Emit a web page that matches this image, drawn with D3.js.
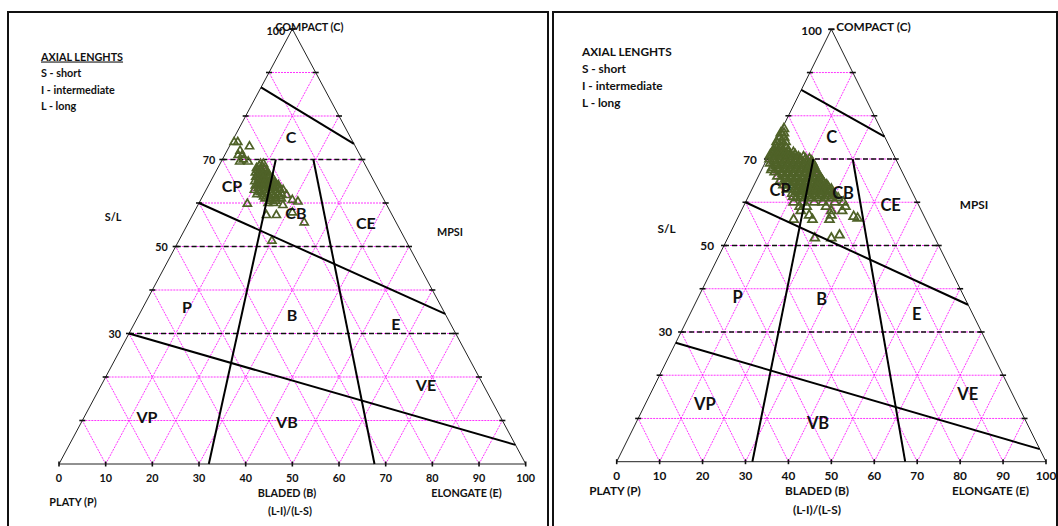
<!DOCTYPE html>
<meta charset="utf-8">
<style>
body{margin:0;background:#fff;}
text{font-family:Lato,"Open Sans",sans-serif;font-weight:bold;fill:#111;}
</style>
<body>
<svg id="chart" width="1058" height="526"></svg>
<script src="https://d3js.org/d3.v7.min.js"></script>
<script>
// Sneed & Folk form diagrams, two sample sets
// every point is [S/L, (L-I)/(L-S)] in percent

var baseTicks = [0, 10, 20, 30, 40, 50, 60, 70, 80, 90, 100];
var gridSteps = [10, 20, 30, 40, 50, 60, 70, 80, 90];
var levelLines = [70, 50, 30];
var regionNames = ["C", "CP", "CB", "CE", "P", "B", "E", "VP", "VB", "VE"];
var legendLines = ["AXIAL LENGHTS", "S - short", "I - intermediate", "L - long"];

// class boundaries [[S/L, ratio], [S/L, ratio]]
var leftBounds = [
	[[86.6, 0], [73.6, 100]],
	[[60, 0], [34.5, 100]],
	[[30, 0], [4.4, 100]],
	[[70, 38.2], [0, 32.1]],
	[[70, 65], [0, 67.6]]
];
var rightBounds = [
	[[86, 0], [75.2, 100]],
	[[60, 0], [36.3, 100]],
	[[27.5, 0], [2.9, 100]],
	[[70, 36], [0, 31.6]],
	[[70, 66.6], [0, 67.2]]
];

// label anchor in the same coordinates
var leftLabelPos = [[75.4, 48.8], [64.1, 14], [57.9, 51.8], [55.6, 85.5], [36.1, 14.7], [34.3, 49.9], [32.4, 82.8], [11, 15], [9.7, 48.7], [18.2, 85]];
var rightLabelPos = [[75.2, 50.3], [62.9, 17.8], [62.2, 57.2], [59.4, 84], [38.2, 14.7], [37.6, 46.4], [34.2, 80.2], [13.4, 16], [9, 46.6], [15.7, 87.7]];

var leftPoints = [
	[74, 2], [74, 5], [73, 16], [72, 10], [71, 10], [71, 13], [70, 15], [69.5, 13], [69.5, 19],
	[69, 28], [69, 30], [68, 26], [68, 29], [68, 31], [67, 26], [67, 28], [67, 31], [67, 34],
	[66, 27], [66, 29], [66, 32], [66, 35], [65, 27], [65, 30], [65, 33], [65, 36], [65, 39],
	[64, 28], [64, 31], [64, 34], [64, 37], [64, 40], [63, 28], [63, 31], [63, 34], [63, 37], [63, 40], [63, 43],
	[62, 30], [62, 33], [62, 36], [62, 39], [62, 42], [62, 44], [61, 35], [61, 38], [61, 41], [61, 44], [60, 37], [60, 40],
	[68.5, 27.5], [67.5, 27], [67.5, 30], [67.5, 33], [66.5, 28], [66.5, 31], [66.5, 34], [65.5, 29], [65.5, 32],
	[65.5, 35], [65.5, 38], [64.5, 30], [64.5, 33], [64.5, 36], [64.5, 39], [63.5, 30], [63.5, 33], [63.5, 36],
	[63.5, 39], [63.5, 42], [62.5, 32], [62.5, 35], [62.5, 38], [62.5, 41], [61.5, 34], [61.5, 37], [61.5, 40],
	[61.5, 43], [60.5, 38], [60.5, 41],
	[62.6, 30.5], [59.8, 26], [57.2, 37], [57.2, 42], [59.5, 45], [60.7, 50], [60.3, 53], [55.5, 55.7],
	[57.8, 50], [51.3, 41], [61.8, 46.8], [64.1, 41.6], [63, 44.7]
];

var rightPoints = [
	[77, 2], [76, 1], [76, 4], [75, 2], [75, 6], [74, 1], [74, 5], [74, 9],
	[73, 2], [73, 6], [73, 10], [72, 2], [72, 6], [72, 10], [72, 14],
	[71, 1], [71, 5], [71, 9], [71, 13], [71, 17], [71, 21],
	[70, 2], [70, 6], [70, 10], [70, 14], [70, 18], [70, 22], [70, 26], [70, 30], [70, 33],
	[69, 4], [69, 9], [69, 13], [69, 17], [69, 21], [69, 25], [69, 29], [69, 33], [69, 36],
	[68, 7], [68, 12], [68, 16], [68, 20], [68, 24], [68, 28], [68, 32], [68, 35], [68, 38],
	[67, 10], [67, 15], [67, 19], [67, 23], [67, 27], [67, 31], [67, 35], [67, 39],
	[66, 13], [66, 18], [66, 22], [66, 26], [66, 30], [66, 34], [66, 38], [66, 42],
	[65, 16], [65, 21], [65, 25], [65, 29], [65, 33], [65, 37], [65, 41], [65, 44],
	[64, 19], [64, 24], [64, 28], [64, 32], [64, 36], [64, 40], [64, 44], [64, 47],
	[63, 22], [63, 27], [63, 31], [63, 35], [63, 39], [63, 43], [63, 47], [63, 50],
	[62, 26], [62, 31], [62, 35], [62, 39], [62, 43], [62, 47], [62, 51],
	[61, 29], [61, 34], [61, 38], [61, 42], [61, 46], [61, 50], [61, 54],
	[60, 28], [60, 33], [60, 40], [60, 45], [60, 52], [60, 57],
	[72.5, 4], [72.5, 8], [72.5, 12], [71.5, 3], [71.5, 7], [71.5, 11], [71.5, 15], [71.5, 19],
	[70.5, 4], [70.5, 8], [70.5, 12], [70.5, 16], [70.5, 20], [70.5, 24], [70.5, 28],
	[69.5, 6], [69.5, 11], [69.5, 15], [69.5, 19], [69.5, 23], [69.5, 27], [69.5, 31], [69.5, 35],
	[68.5, 9], [68.5, 14], [68.5, 18], [68.5, 22], [68.5, 26], [68.5, 30], [68.5, 34], [68.5, 37],
	[67.5, 12], [67.5, 17], [67.5, 21], [67.5, 25], [67.5, 29], [67.5, 33], [67.5, 37],
	[66.5, 16], [66.5, 20], [66.5, 24], [66.5, 28], [66.5, 32], [66.5, 36], [66.5, 40],
	[65.5, 19], [65.5, 23], [65.5, 27], [65.5, 31], [65.5, 35], [65.5, 39], [65.5, 43],
	[64.5, 22], [64.5, 26], [64.5, 30], [64.5, 34], [64.5, 38], [64.5, 42], [64.5, 45],
	[63.5, 25], [63.5, 29], [63.5, 33], [63.5, 37], [63.5, 41], [63.5, 45], [63.5, 48],
	[62.5, 29], [62.5, 33], [62.5, 37], [62.5, 41], [62.5, 45], [62.5, 49],
	[61.5, 32], [61.5, 36], [61.5, 40], [61.5, 44], [61.5, 48], [61.5, 52],
	[59, 32], [59, 36], [59, 47], [59, 58], [58, 33], [58, 50], [58, 56], [57, 38], [57, 50],
	[56, 30], [56, 40], [56, 49], [56.7, 62], [56.3, 64], [51.7, 42], [51.7, 50], [52.4, 54], [67.5, 7], [61.3, 27]
];

var svg = d3.select("#chart");

var leftPanel = {
	frame: [8, 12, 540, 530], x0: 59, x1: 525.7, yBase: 464, yTop: 29,
	small: 10.8, region: 16, mark: 28, markW: 1.7,
	legendX: 41, legendY: [56, 72, 89, 105], underline: true,
	topDx: -7, compDx: -17, topY: 30, compY: 26.7, levelDx: [7, 8, 8], tickY: 477,
	notes: [["S/L", 113, 216.7], ["MPSI", 450, 231.7], ["PLATY (P)", 73, 501.7], ["BLADED (B)", 287, 492.7],
		["(L-I)/(L-S)", 290, 510], ["ELONGATE (E)", 466.5, 492.7]]
};
var rightPanel = {
	frame: [553, 12, 504, 530], x0: 616.7, x1: 1046, yBase: 461.7, yTop: 29.3,
	small: 11.8, region: 16.5, mark: 34, markW: 1.8,
	legendX: 582, legendY: [51.7, 68, 85, 102], underline: false,
	topDx: -9.5, compDx: 5, topY: 30, compY: 26.5, levelDx: [10, 10, 9], tickY: 475,
	notes: [["S/L", 666.5, 228], ["MPSI", 974, 204], ["PLATY (P)", 615, 490.7], ["BLADED (B)", 817, 490.7],
		["(L-I)/(L-S)", 817, 509], ["ELONGATE (E)", 990.5, 490.7]]
};

function drawPanel(p, points, bounds, labelPos){
	var g = svg.append("g");
	var x = d3.scaleLinear().domain([0, 1]).range([p.x0, p.x1]);
	var y = d3.scaleLinear().domain([0, 1]).range([p.yBase, p.yTop]);
	var line = d3.line();
	function uv(xu, c){ return [x(xu), y(c)]; }
	function tern(sl, r){
		var c = sl / 100, b = r / 100;
		return uv(c / 2 + b * (1 - c), c);
	}

	g.append("rect")
		.attr("x", p.frame[0]).attr("y", p.frame[1])
		.attr("width", p.frame[2]).attr("height", p.frame[3])
		.attr("fill", "none").attr("stroke", "#111").attr("stroke-width", 2);

	// magenta lattice
	var grid = g.append("g").attr("fill", "none")
		.attr("stroke", "#ff00ff").attr("stroke-width", 0.8).attr("stroke-dasharray", "2,1");
	gridSteps.forEach(function(s){
		var f = s / 100;
		grid.append("path").attr("d", line([uv(f / 2, f), uv(1 - f / 2, f)]));
		grid.append("path").attr("d", line([uv(f, 0), uv((1 + f) / 2, 1 - f)]));
		grid.append("path").attr("d", line([uv(f, 0), uv(f / 2, f)]));
	});

	g.append("path")
		.attr("d", line([uv(0, 0), uv(0.5, 1), uv(1, 0)]) + "Z")
		.attr("fill", "none").attr("stroke", "#222").attr("stroke-width", 1);

	// edge ticks
	var tk = g.append("g").attr("stroke", "#111").attr("stroke-width", 1.6);
	gridSteps.concat([100]).forEach(function(s){
		var f = s / 100;
		[uv(f / 2, f), uv(1 - f / 2, f)].forEach(function(q){
			tk.append("line").attr("x1", q[0] - 3).attr("x2", q[0] + 3).attr("y1", q[1]).attr("y2", q[1]);
		});
	});
	baseTicks.forEach(function(t){
		var q = uv(t / 100, 0);
		tk.append("line").attr("x1", q[0]).attr("x2", q[0]).attr("y1", q[1] - 2.5).attr("y2", q[1] + 2.5);
	});

	g.selectAll(".lvl").data(levelLines).enter().append("path")
		.attr("d", function(d){ return line([tern(d, 0), tern(d, 100)]); })
		.attr("fill", "none").attr("stroke", "#111").attr("stroke-width", 1.6).attr("stroke-dasharray", "5,3");

	// samples
	var sym = d3.symbol().type(d3.symbolTriangle).size(p.mark);
	g.append("g").selectAll("path").data(points).enter().append("path")
		.attr("d", sym)
		.attr("transform", function(d){ var q = tern(d[0], d[1]); return "translate(" + q[0] + "," + q[1] + ")"; })
		.attr("fill", "none").attr("stroke", "#4f6228").attr("stroke-width", p.markW);

	g.append("g").selectAll("path").data(bounds).enter().append("path")
		.attr("d", function(d){ return line([tern(d[0][0], d[0][1]), tern(d[1][0], d[1][1])]); })
		.attr("fill", "none").attr("stroke", "#000").attr("stroke-width", 2);

	g.append("g").selectAll("text").data(regionNames).enter().append("text")
		.attr("x", function(d, i){ return tern(labelPos[i][0], labelPos[i][1])[0]; })
		.attr("y", function(d, i){ return tern(labelPos[i][0], labelPos[i][1])[1]; })
		.attr("text-anchor", "middle").attr("dominant-baseline", "central")
		.style("font-size", p.region + "px").text(function(d){ return d; });

	g.append("g").selectAll("text").data(baseTicks).enter().append("text")
		.attr("x", function(d){ return x(d / 100); }).attr("y", p.tickY)
		.attr("text-anchor", "middle").attr("dominant-baseline", "central")
		.style("font-size", p.small + "px").text(function(d){ return d; });

	g.append("g").selectAll("text").data(levelLines).enter().append("text")
		.attr("x", function(d, i){ return tern(d, 0)[0] - p.levelDx[i]; })
		.attr("y", function(d){ return tern(d, 0)[1]; })
		.attr("text-anchor", "end").attr("dominant-baseline", "central")
		.style("font-size", p.small + "px").text(function(d){ return d; });

	g.append("text").attr("x", x(0.5) + p.topDx).attr("y", p.topY)
		.attr("text-anchor", "end").attr("dominant-baseline", "central")
		.style("font-size", p.small + "px").text("100");
	g.append("text").attr("x", x(0.5) + p.compDx).attr("y", p.compY)
		.attr("dominant-baseline", "central")
		.style("font-size", p.small + "px").text("COMPACT (C)");

	g.append("g").selectAll("text").data(legendLines).enter().append("text")
		.attr("x", p.legendX).attr("y", function(d, i){ return p.legendY[i]; })
		.attr("dominant-baseline", "central")
		.style("text-decoration", function(d, i){ return i == 0 && p.underline ? "underline" : "none"; })
		.style("font-size", p.small + "px").text(function(d){ return d; });

	g.append("g").selectAll("text").data(p.notes).enter().append("text")
		.attr("x", function(d){ return d[1]; }).attr("y", function(d){ return d[2]; })
		.attr("text-anchor", "middle").attr("dominant-baseline", "central")
		.style("font-size", p.small + "px").text(function(d){ return d[0]; });
}

drawPanel(leftPanel, leftPoints, leftBounds, leftLabelPos);
drawPanel(rightPanel, rightPoints, rightBounds, rightLabelPos);
</script>
</body>
